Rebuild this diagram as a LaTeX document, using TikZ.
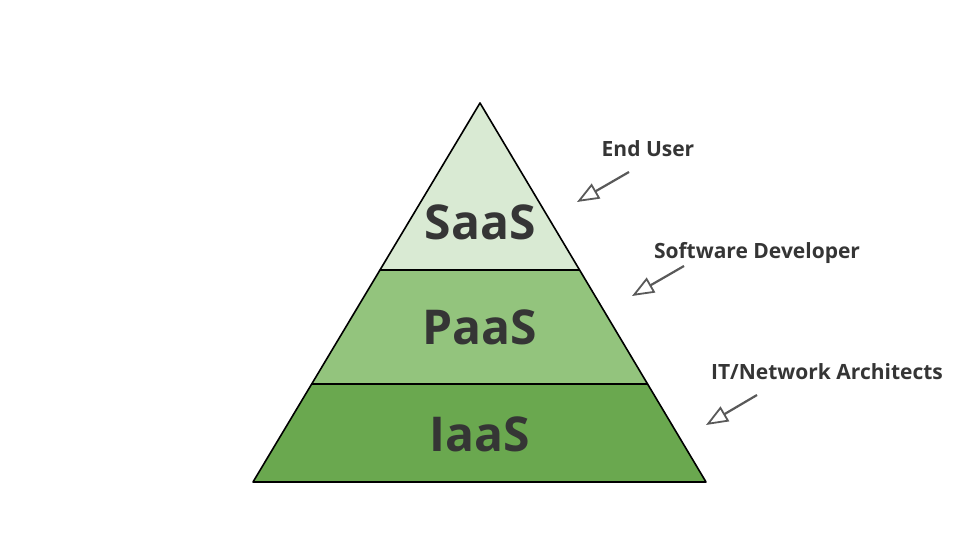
\documentclass[tikz,border=0pt]{standalone}
\usepackage{fontspec}
\setmainfont{Open Sans}
\usepackage{xcolor}
\usepackage{tikz}
\usetikzlibrary{positioning,arrows.meta}
\definecolor{saasfill}{HTML}{d9ead3}
\definecolor{paasfill}{HTML}{93c47d}
\definecolor{iaasfill}{HTML}{6aa84f}
\definecolor{inkdark}{HTML}{353535}
\definecolor{inkarrow}{HTML}{595959}

\begin{document}
\begin{tikzpicture}[x=1pt,y=1pt,
  layer/.style={draw=black,line width=1.6pt,line join=round},
  tier/.style={font=\fontsize{48}{48}\selectfont\bfseries,text=inkdark,inner sep=0pt},
  who/.style={font=\fontsize{21}{24}\selectfont\bfseries,text=inkdark,inner sep=0pt},
  pointer/.style={draw=inkarrow,line width=2.2pt,-{Triangle[open,length=22pt,width=17pt,line width=1.8pt]}}]
  \useasboundingbox (0,0) rectangle (960,540);
  % layers
  \fill[iaasfill] (253,58) -- (706,58) -- (648,156) -- (312,156) -- cycle;
  \fill[paasfill] (312,156) -- (648,156) -- (580,270) -- (380,270) -- cycle;
  \fill[saasfill] (380,270) -- (580,270) -- (480,437) -- cycle;
  \draw[layer] (253,58) -- (706,58) -- (480,437) -- cycle;
  \draw[layer] (312,156) -- (648,156);
  \draw[layer] (380,270) -- (580,270);
  % tier labels
  \node[tier] (saas) at (480,318) {SaaS};
  \node[tier] (paas) at (480,213) {PaaS};
  \node[tier] (iaas) at (480,106) {IaaS};
  % users
  \node[who] (enduser) at (648,391) {End User};
  \node[who] (swdev) at (757,287) {Software Developer};
  \node[who] (itarch) at (827,168) {IT/Network Architects};
  \coordinate (t1) at (629,368);
  \coordinate (h1) at (577,338);
  \coordinate (t2) at (684,274);
  \coordinate (h2) at (632,244);
  \coordinate (t3) at (757,145);
  \coordinate (h3) at (706,115);
  \draw[pointer] (t1) -- (h1);
  \draw[pointer] (t2) -- (h2);
  \draw[pointer] (t3) -- (h3);
\end{tikzpicture}
\end{document}
